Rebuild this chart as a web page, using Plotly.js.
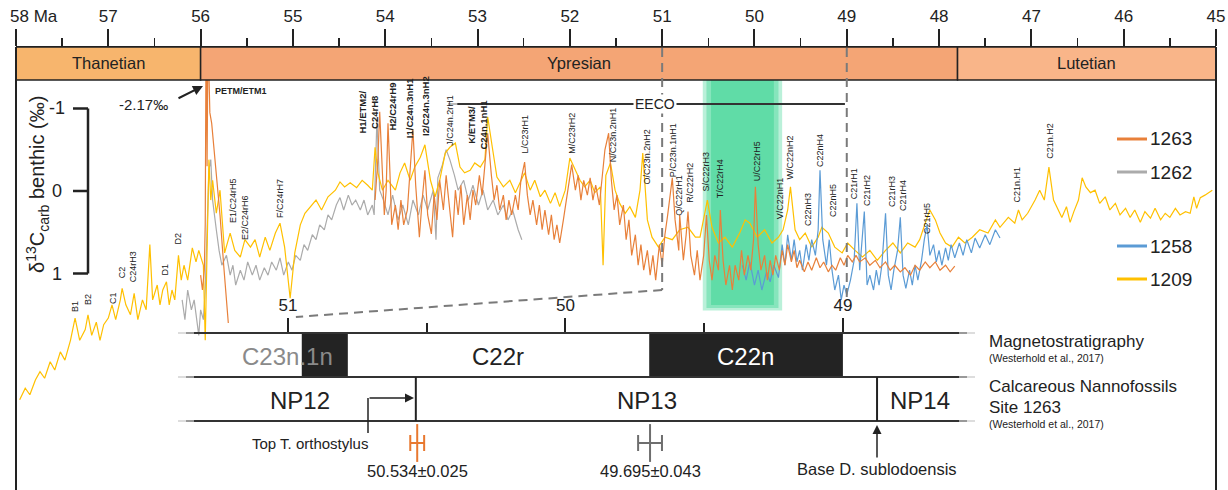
<!DOCTYPE html>
<html><head><meta charset="utf-8">
<script src="https://cdn.plot.ly/plotly-3.0.1.min.js"></script>
<style>html,body{margin:0;padding:0;background:#fff;}#chart{width:1228px;height:490px;}</style>
</head><body><div id="chart"></div>
<script>
// ---------------- DATA ----------------
const seriesNames = ['1263','1262','1258','1209'];

const age1209 = [
57.96,57.90,57.85,57.79,57.74,57.69,57.63,57.58,57.52,57.47,
57.41,57.36,57.31,57.25,57.22,57.18,57.13,57.09,57.05,57.00,
56.96,56.92,56.87,56.85,56.81,56.76,56.72,56.68,56.63,56.59,
56.55,56.52,56.47,56.44,56.41,56.37,56.34,56.31,56.28,56.24,
56.21,56.18,56.14,56.09,56.05,56.02,55.97,55.95,55.93,55.91,
55.89,55.87,55.83,55.79,55.74,55.68,55.63,55.57,55.52,55.46,
55.41,55.36,55.30,55.25,55.19,55.14,55.09,55.03,54.98,54.92,
54.87,54.81,54.75,54.69,54.62,54.54,54.49,54.44,54.38,54.31,
54.25,54.19,54.14,54.11,54.08,54.03,53.97,53.89,53.84,53.79,
53.73,53.68,53.62,53.57,53.51,53.46,53.41,53.35,53.30,53.24,
53.19,53.14,53.08,53.03,52.97,52.92,52.89,52.84,52.79,52.72,
52.65,52.59,52.54,52.49,52.43,52.38,52.32,52.27,52.21,52.16,
52.11,52.05,52.00,51.94,51.89,51.84,51.78,51.73,51.67,51.64,
51.61,51.56,51.51,51.46,51.40,51.35,51.29,51.24,51.21,51.16,
51.11,51.04,50.97,50.89,50.81,50.72,50.64,50.59,50.51,50.46,
50.39,50.32,50.24,50.16,50.10,50.05,49.97,49.89,49.81,49.74,
49.69,49.64,49.61,49.56,49.51,49.45,49.38,49.31,49.27,49.20,
49.13,49.05,48.99,48.91,48.83,48.75,48.67,48.58,48.50,48.42,
48.34,48.26,48.21,48.15,48.10,48.04,47.99,47.93,47.86,47.79,
47.72,47.64,47.56,47.47,47.39,47.34,47.25,47.18,47.14,47.10,
47.04,46.96,46.91,46.86,46.81,46.76,46.71,46.67,46.62,46.58,
46.54,46.49,46.45,46.41,46.36,46.31,46.26,46.20,46.15,46.09,
46.04,45.98,45.93,45.88,45.82,45.77,45.71,45.66,45.60,45.55,
45.50,45.44,45.39,45.33,45.28,45.24,45.21,45.17,45.12,45.04];
const d13c1209 = [
2.53,2.39,2.47,2.29,2.19,2.27,2.07,2.17,1.95,2.05,
1.81,1.54,1.81,1.68,1.50,1.75,1.59,1.81,1.62,1.54,
1.38,1.56,1.32,1.18,1.38,1.50,1.24,1.56,1.32,1.44,
0.65,1.32,1.14,1.38,1.20,1.10,1.38,1.20,1.32,0.78,
1.08,0.90,1.08,0.69,0.86,0.72,0.90,1.81,0.72,-0.38,
0.11,-0.13,0.27,-0.01,0.75,0.51,0.72,0.80,0.59,0.68,
0.59,0.80,0.56,0.72,0.51,0.39,0.68,1.30,0.75,0.41,
0.27,0.19,0.11,0.23,0.07,-0.01,-0.11,-0.05,-0.10,-0.04,
-0.13,-0.07,-0.01,-0.53,-0.22,-0.01,-0.13,-0.01,-0.22,-0.34,
-0.13,-0.29,-0.41,-0.56,-0.13,0.07,-0.13,-0.46,-0.53,-0.58,
-0.29,-0.22,-0.25,-0.34,-0.29,-0.38,-0.90,-0.53,-0.17,-0.05,
-0.13,0.02,-0.10,-0.22,-0.01,-0.13,0.07,-0.01,0.15,0.02,
0.19,-0.01,-0.40,-0.25,-0.13,-0.05,-0.13,0.02,-0.05,0.90,
-0.19,-0.34,-0.01,0.15,0.27,0.19,0.32,-0.01,-0.46,0.35,
0.56,0.68,0.56,0.59,0.47,0.44,0.56,0.56,0.11,0.44,
0.63,0.56,0.68,0.51,0.35,0.39,0.56,0.47,0.63,0.56,
0.47,0.23,-0.05,0.47,0.59,0.51,0.68,0.56,0.44,0.51,
0.68,0.75,0.63,0.72,0.80,0.72,0.84,0.72,0.63,0.75,
0.63,0.68,0.59,0.39,0.23,0.35,0.51,0.63,0.68,0.56,
0.63,0.56,0.47,0.51,0.35,0.44,0.32,0.39,0.23,0.35,
0.27,0.11,-0.01,0.11,-0.29,0.11,0.23,0.32,0.19,0.38,
0.25,0.11,-0.16,-0.05,0.02,-0.01,0.15,0.07,0.23,0.15,
0.29,0.21,0.32,0.23,0.38,0.25,0.33,0.21,0.35,0.27,
0.32,0.21,0.29,0.25,0.27,0.07,0.21,0.08,0.05,-0.01];

const age1262 = [
56.20,56.17,56.14,56.10,56.07,56.04,56.02,56.00,55.97,55.95,
55.93,55.91,55.89,55.87,55.83,55.80,55.77,55.72,55.68,55.65,
55.62,55.57,55.53,55.49,55.44,55.40,55.36,55.31,55.27,55.23,
55.18,55.14,55.10,55.05,55.01,54.97,54.92,54.88,54.84,54.79,
54.75,54.71,54.66,54.62,54.58,54.53,54.49,54.45,54.40,54.36,
54.32,54.27,54.23,54.19,54.14,54.12,54.09,54.06,54.02,53.97,
53.92,53.86,53.81,53.75,53.70,53.64,53.59,53.54,53.48,53.45,
53.43,53.38,53.34,53.30,53.25,53.21,53.15,53.10,53.05,52.99,
52.94,52.89,52.83,52.78,52.72,52.67,52.62,52.56,52.52];
const d13c1262 = [
1.32,1.56,1.20,1.44,1.32,1.62,1.75,1.44,1.56,1.20,
0.47,-0.25,-0.38,0.11,0.47,0.72,0.90,0.78,1.02,0.90,
1.14,0.96,1.08,0.86,1.02,0.90,1.08,0.93,1.02,0.86,
0.96,0.81,1.02,0.86,0.96,0.78,0.84,0.65,0.72,0.53,
0.59,0.41,0.47,0.29,0.35,0.17,0.08,0.23,0.05,0.17,
0.11,0.23,0.11,0.29,0.17,0.29,-0.88,-0.01,0.11,0.29,
0.05,0.35,0.17,0.41,0.11,0.29,0.05,0.23,-0.01,0.59,
-0.16,-0.32,-0.50,-0.38,-0.19,-0.01,-0.13,0.11,-0.07,0.17,
-0.01,0.23,0.11,0.29,0.17,0.35,0.23,0.47,0.59];

const age1263 = [
56.00,55.98,55.96,55.95,55.94,55.93,55.92,55.90,55.88,55.83,55.79,55.75,55.70,55.50,
54.11,54.08,54.06,54.03,54.01,53.99,53.97,53.95,53.93,53.89,
53.86,53.83,53.80,53.76,53.73,53.70,53.67,53.63,53.60,53.57,
53.54,53.50,53.47,53.44,53.41,53.37,53.34,53.31,53.27,53.24,
53.21,53.18,53.15,53.11,53.08,53.05,53.02,52.98,52.95,52.92,
52.89,52.85,52.82,52.79,52.76,52.72,52.69,52.66,52.63,52.59,
52.56,52.53,52.49,52.46,52.43,52.40,52.36,52.33,52.30,52.27,
52.23,52.20,52.17,52.14,52.11,52.07,52.04,52.01,51.98,51.94,
51.91,51.88,51.85,51.81,51.78,51.75,51.72,51.68,51.65,51.62,
51.58,51.55,51.52,51.49,51.46,51.42,51.39,51.36,51.33,51.29,
51.26,51.23,51.20,51.16,51.13,51.10,51.07,51.03,51.00,50.97,
50.94,50.89,50.86,50.82,50.81,50.77,50.74,50.72,50.69,50.65,
50.62,50.59,50.55,50.52,50.49,50.46,50.43,50.39,50.37,50.34,
50.31,50.27,50.24,50.21,50.17,50.14,50.11,50.07,50.04,50.01,
49.99,49.96,49.93,49.89,49.86,49.83,49.80,49.77,49.73,49.70,
49.67,49.64,49.60,49.57,49.54,49.51,49.46,49.42,49.38,49.33,
49.29,49.25,49.20,49.16,49.12,49.07,49.03,48.99,48.94,48.90,
48.86,48.80,48.75,48.69,48.64,48.58,48.53,48.48,48.42,48.37,
48.31,48.26,48.21,48.15,48.10,48.04,47.99,47.93,47.88,47.83];
const d13c1263 = [
1.02,1.20,0.96,0.40,-2.17,-0.30,-1.90,-0.95,-0.82,-0.25,0.29,0.90,1.60,null,
0.11,-0.38,-0.96,-0.25,0.29,-0.01,-0.82,-0.25,0.41,0.17,
0.47,0.11,0.41,0.23,-0.25,-0.75,-0.07,0.56,0.11,-0.25,
0.29,0.52,0.05,0.35,-0.13,0.23,-0.19,0.11,0.56,-0.01,
0.29,-0.07,0.41,0.05,0.35,-0.01,0.17,-0.19,0.05,-0.32,
-0.70,-0.19,0.11,-0.07,0.23,0.05,0.35,0.11,0.29,0.05,
0.23,-0.13,-0.35,0.05,0.29,0.11,0.41,0.17,0.47,0.23,
0.53,0.29,0.59,0.41,0.63,0.35,0.11,-0.13,-0.32,-0.01,
-0.19,0.11,-0.13,0.05,-0.16,0.11,-0.07,0.17,-0.19,-0.50,
-0.70,-0.13,0.23,0.05,0.41,0.17,0.59,0.35,0.78,0.53,
0.90,0.65,0.96,0.72,1.02,0.78,1.08,0.65,0.90,0.53,
0.29,-0.16,0.35,0.72,0.29,0.84,0.53,0.25,0.78,1.02,
0.72,1.08,0.78,0.29,0.84,1.08,0.78,0.96,0.23,0.84,
1.14,0.90,1.20,0.90,1.08,0.72,1.02,0.78,0.96,0.59,
-0.05,0.65,0.96,0.78,1.08,0.84,1.02,0.78,0.96,0.72,
0.90,0.65,0.86,0.72,0.93,0.84,0.98,0.86,0.96,0.81,
0.93,0.86,0.98,0.90,0.96,0.81,0.90,0.78,0.86,0.78,
0.86,0.81,0.90,0.84,0.93,0.86,0.96,0.90,0.98,0.93,
1.02,0.90,0.96,0.86,0.93,0.86,0.96,0.90,0.98,0.91];

const age1258 = [
50.13,50.09,50.05,50.00,49.96,49.92,49.87,49.83,49.79,49.74,
49.70,49.67,49.64,49.60,49.57,49.54,49.51,49.48,49.44,49.41,
49.38,49.34,49.31,49.29,49.26,49.22,49.19,49.16,49.13,49.09,
49.06,49.03,49.00,48.96,48.92,48.89,48.86,48.81,48.78,48.75,
48.71,48.68,48.65,48.62,48.58,48.55,48.52,48.49,48.45,48.42,
48.39,48.36,48.32,48.29,48.26,48.23,48.19,48.16,48.13,48.10,
48.06,48.03,48.00,47.97,47.93,47.90,47.87,47.83,47.78,47.74,
47.70,47.65,47.61,47.56,47.50,47.45,47.39,47.34];
const d13c1258 = [
0.90,1.08,0.86,1.14,0.96,1.20,0.98,1.10,0.90,1.05,
0.65,0.90,0.53,0.84,0.59,0.86,0.72,0.96,0.65,0.84,
0.59,0.78,0.47,-0.25,0.59,0.90,0.59,0.96,1.20,1.02,
1.32,1.14,1.26,1.08,0.84,0.15,0.96,0.25,1.14,1.02,
1.20,0.96,1.14,0.90,0.27,1.02,1.20,0.96,0.72,0.32,
1.02,1.18,0.96,1.14,0.90,1.08,0.84,0.59,0.41,0.78,
0.65,0.86,0.72,0.90,0.69,0.84,0.65,0.81,0.63,0.78,
0.59,0.75,0.57,0.69,0.53,0.65,0.47,0.57];

const petmMin = -2.17;
const ageTicks = [58,57,56,55,54,53,52,51,50,49,48,47,46,45];
const ageMinorTicks = [57.5,56.5,55.5,54.5,53.5,52.5,51.5,50.5,49.5,48.5,47.5,46.5,45.5];
const stageNames = ['Thanetian','Ypresian','Lutetian'];
const stageStart = [58,56,47.8];
const stageEnd = [56,47.8,45];
const eecoStart = 53.22, eecoEnd = 49.02;
const greenStart = 50.52, greenEnd = 49.74;

const zoomTicks = [51,50,49];
const zoomMinorTicks = [50.5,49.5];
const chronNames = ['C23n.1n','C22r','C22n'];
const chronStart = [50.95,50.784,49.698];
const chronEnd = [50.784,49.698,49.0];
const chronNormal = [true,false,true];
const zoneNames = ['NP12','NP13','NP14'];
const zoneStart = [51.40,50.539,48.877];
const zoneEnd = [50.539,48.877,48.52];
const datingAge = [50.534,49.695];
const datingErr = [0.025,0.043];

// event labels: [text, age, y(px), bold]
const events = [
['B1',57.36,307,0],['B2',57.22,300,0],['C1',56.95,298,0],['C2',56.85,272,0],['C24rH3',56.73,267,0],
['D1',56.39,270,0],['D2',56.24,238,0],['E1/C24rH5',55.65,200,0],['E2/C24rH6',55.52,217,0],['F/C24rH7',55.14,199,0],
['H1/ETM2/<br>C24rH8',54.18,112,1],['H2/C24rH9',53.92,107,1],['I1/C24n.3nH1',53.73,108,1],['I2/C24n.3nH2',53.57,106,1],
['J/C24n.2rH1',53.30,120,0],['K/ETM3/<br>C24n.1nH1',53.00,125,1],['L/C23rH1',52.49,134,0],['M/C23rH2',51.98,133,0],
['N/C23n.2nH1',51.53,135,0],['O/C23n.2nH2',51.16,157,0],['P/C23n.1nH1',50.88,150,0],['Q/C22rH1',50.82,195,0],
['R/C22rH2',50.70,183,0],['S/C22rH3',50.52,171,0],['T/C22rH4',50.37,179,0],['U/C22rH5',49.97,161,0],
['V/C22nH1',49.72,198,0],['W/C22nH2',49.61,157,0],['C22nH3',49.42,210,0],['C22nH4',49.29,151,0],
['C22nH5',49.15,200,0],['C21rH1',48.92,184,0],['C21rH2',48.78,191,0],['C21rH3',48.51,192,0],
['C21rH4',48.39,196,0],['C21rH5',48.13,219,0],['C21n.H1',47.16,185,0],['C21n.H2',46.80,141,0]];

// ---------------- STYLE / LAYOUT ----------------
const W=1228,H=490;
const FONT='Liberation Sans, Arial, sans-serif';
const INK='#222';
const X=p=>p/W, Y=p=>(H-p)/H;
const col = {'1263':'#E8803A','1262':'#ABABAB','1258':'#5B9BD5','1209':'#FFC000'};
const stageCol = ['#F7B56D','#F4A575','#F9B589'];

function line(t,a,v,w){return {type:'scatter',mode:'lines',x:a,y:v,xaxis:'x',yaxis:'y',
  line:{color:col[t],width:w||1.2},hoverinfo:'skip',showlegend:false,connectgaps:false};}
const traces=[line('1262',age1262,d13c1262),line('1209',age1209,d13c1209),
  line('1258',age1258,d13c1258),line('1263',age1263,d13c1263)];
const datCol=['#E8782F','#6e6e6e'];
datingAge.forEach((a,i)=>traces.push({type:'scatter',mode:'markers',x:[a],y:[443],xaxis:'x3',yaxis:'y2',
  marker:{symbol:'line-ns-open',size:27,color:datCol[i],line:{color:datCol[i],width:2}},
  error_x:{type:'data',array:[datingErr[i]],color:datCol[i],thickness:2,width:8},hoverinfo:'skip',showlegend:false}));

const shapes=[];
const ann=[];
function L(x0,y0,x1,y1,c,w,d,xr,yr,layer){shapes.push({type:'line',x0,y0,x1,y1,xref:xr||'paper',yref:yr||'paper',
  line:{color:c,width:w,dash:d||'solid'},layer:layer||'above'});}
function T(text,x,y,o){ann.push(Object.assign({text,x,y,xref:'paper',yref:'paper',showarrow:false,
  xanchor:'center',yanchor:'middle',font:{family:FONT,size:16,color:INK}},o||{}));}

// green EECO core band (soft edges)
[[0.04,0.35],[0.0,0.4],[-0.05,0.5]].forEach(([d,op])=>{
  shapes.push({type:'rect',xref:'x',yref:'paper',x0:greenStart+d,x1:greenEnd-d,y0:Y(80),y1:Y(308+d*60),
   fillcolor:'rgb(58,212,145)',opacity:op,line:{width:0},layer:'below'});});

// stage bar
stageNames.forEach((s,i)=>{
  shapes.push({type:'rect',xref:'x',yref:'paper',x0:stageStart[i],x1:stageEnd[i],y0:Y(47),y1:Y(80),
   fillcolor:stageCol[i],line:{color:INK,width:1.5},layer:'above'});
  ann.push({text:s,x:(stageStart[i]+stageEnd[i])/2,y:Y(63),xref:'x',yref:'paper',showarrow:false,
   font:{family:FONT,size:16.5,color:INK}});
});
// frame
L(X(16),Y(47),X(16),Y(490),INK,2);
L(X(1216),Y(47),X(1216),Y(490),INK,2);

// dashed connectors
L(51,Y(48),51,Y(290),'#7a7a7a',2,'9px,6px','x');
L(49,Y(48),49,Y(300),'#7a7a7a',2,'9px,6px','x');
const xMain=a=>(16+(58-a)*1200/13)/W;
const xLow=a=>(178+(51.396-a)*797/2.872)/W;
L(xMain(51),Y(290),xLow(51)+8/W,Y(317),'#7a7a7a',2,'9px,6px');

// EECO
L(eecoStart+0.1,Y(104),eecoStart,Y(104),'#bbbbbb',2,'solid','x');
L(eecoStart,Y(104),eecoEnd,Y(104),'#333',2,'solid','x');
ann.push({text:'EECO',x:51.08,y:Y(104),xref:'x',yref:'paper',showarrow:false,bgcolor:'#fff',borderpad:1,
  font:{family:FONT,size:14,color:INK}});

// y scale bar
L(X(88),-1,X(88),1,INK,2.5,'solid','paper','y');
[-1,0,1].forEach(v=>{L(X(73),v,X(88),v,INK,2.5,'solid','paper','y');
  ann.push({text:String(v),x:X(57),y:v,xref:'paper',yref:'y',showarrow:false,font:{family:FONT,size:18,color:INK}});});
T('δ<sup>13</sup>C<sub>carb</sub> benthic (‰)',X(37),Y(185),{textangle:-90,font:{family:FONT,size:20,color:INK}});

// PETM annotation
T('-2.17‰',X(143),Y(104),{font:{family:FONT,size:15,color:INK}});
ann.push({text:'',x:X(203),y:Y(86),xref:'paper',yref:'paper',showarrow:true,ax:-26,ay:13,arrowhead:2,arrowsize:1,arrowwidth:2,arrowcolor:INK});
T('<b>PETM/ETM1</b>',X(213),Y(91),{xanchor:'left',font:{family:FONT,size:9,color:INK}});
ann.push({text:'58 Ma',x:X(8),y:Y(17),xref:'paper',yref:'paper',showarrow:false,xanchor:'left',font:{family:FONT,size:17,color:INK}});

// event labels
events.forEach(([t,a,y,b])=>ann.push({text:b?'<b>'+t+'</b>':t,x:a,y:Y(y),xref:'x',yref:'paper',showarrow:false,
  textangle:-90,xanchor:'center',yanchor:'middle',font:{family:FONT,size:b?9.5:9,color:INK}}));

// legend
const legY={'1263':139,'1262':172,'1258':246,'1209':279};
seriesNames.forEach(s=>{L(X(1117),Y(legY[s]),X(1147),Y(legY[s]),col[s],3);
  T(s,X(1148),Y(legY[s]),{xanchor:'left',font:{family:FONT,size:19,color:INK}});});

// lower panel
chronNames.forEach((c,i)=>{ if(chronNormal[i]) shapes.push({type:'rect',xref:'x3',yref:'paper',x0:chronStart[i],x1:chronEnd[i],
  y0:Y(333),y1:Y(377),fillcolor:'#232323',line:{width:0},layer:'above'});});
function fade(y){L(X(178),Y(y),X(186),Y(y),'#dddddd',2);L(X(186),Y(y),X(194),Y(y),'#999',2);
  L(X(194),Y(y),X(959),Y(y),'#333',2);L(X(959),Y(y),X(967),Y(y),'#999',2);L(X(967),Y(y),X(975),Y(y),'#dddddd',2);}
fade(333);fade(377);fade(421);
[zoneEnd[0],zoneEnd[1]].forEach(a=>L(a,Y(377),a,Y(421),'#222',2,'solid','x3'));
const chronLab=[[51.0,'#8a8a8a'],[50.243,INK],[49.35,'#fff']];
chronNames.forEach((c,i)=>ann.push({text:c,x:chronLab[i][0],y:Y(356),xref:'x3',yref:'paper',showarrow:false,
  font:{family:FONT,size:24,color:chronLab[i][1]}}));
const zoneLab=[50.957,49.706,48.723];
zoneNames.forEach((z,i)=>ann.push({text:z,x:zoneLab[i],y:Y(400),xref:'x3',yref:'paper',showarrow:false,
  font:{family:FONT,size:24,color:INK}}));
// Top T. orthostylus arrow
L(X(368),Y(433),X(368),Y(398),INK,1.5);
ann.push({text:'',x:X(414),y:Y(398),xref:'paper',yref:'paper',showarrow:true,ax:-46,ay:0,arrowhead:2,arrowsize:1.2,arrowwidth:1.5,arrowcolor:INK});
T('Top T. orthostylus',X(310),Y(443),{font:{family:FONT,size:15,color:INK}});
// Base D. sublodoensis arrow
ann.push({text:'',x:X(877),y:Y(425),xref:'paper',yref:'paper',showarrow:true,ax:0,ay:34,arrowhead:2,arrowsize:1.2,arrowwidth:1.5,arrowcolor:INK});
T('Base D. sublodoensis',X(877),Y(469),{font:{family:FONT,size:16.5,color:INK}});
datingAge.forEach((a,i)=>ann.push({text:a.toFixed(3)+'±'+datingErr[i].toFixed(3),x:a,y:Y(471),xref:'x3',yref:'paper',
  showarrow:false,font:{family:FONT,size:16.5,color:INK}}));
// right labels
T('Magnetostratigraphy',X(987),Y(342),{xanchor:'left',font:{family:FONT,size:17,color:INK}});
T('(Westerhold et al., 2017)',X(987),Y(358),{xanchor:'left',font:{family:FONT,size:10.5,color:INK}});
T('Calcareous Nannofossils',X(987),Y(386),{xanchor:'left',font:{family:FONT,size:17,color:INK}});
T('Site 1263',X(987),Y(407),{xanchor:'left',font:{family:FONT,size:17,color:INK}});
T('(Westerhold et al., 2017)',X(987),Y(424),{xanchor:'left',font:{family:FONT,size:10.5,color:INK}});

// explicit anchoring for all texts
ann.forEach(a=>{ if(a.xanchor===undefined) a.xanchor='center'; if(a.yanchor===undefined) a.yanchor='middle'; });

const layout={width:W,height:H,margin:{l:0,r:0,t:0,b:0},paper_bgcolor:'#fff',plot_bgcolor:'rgba(0,0,0,0)',
  showlegend:false,font:{family:FONT,color:INK},
  xaxis:{domain:[16/W,1216/W],range:[58,45],anchor:'free',position:Y(47),side:'top',ticks:'outside',ticklen:17,
    tickwidth:2,tickcolor:INK,showline:true,linewidth:2,linecolor:INK,tickvals:ageTicks,
    ticktext:ageTicks.map(t=>t===58?'':String(t)),tickfont:{family:FONT,size:17,color:INK},
    minor:{tickvals:ageMinorTicks,ticklen:8,tickwidth:1.5,tickcolor:INK,ticks:'outside'},
    showgrid:false,zeroline:false,fixedrange:true},
  yaxis:{domain:[0,Y(80)],range:[(490-191)/82.5,(80-191)/82.5],visible:false,anchor:'free',position:0,fixedrange:true},
  xaxis3:{domain:[178/W,975/W],range:[51.396,48.524],anchor:'free',position:Y(333),side:'top',ticks:'outside',
    ticklen:15,tickwidth:2,tickcolor:INK,tickvals:zoomTicks,ticktext:zoomTicks.map(String),
    minor:{tickvals:zoomMinorTicks,ticklen:10,tickwidth:2,tickcolor:INK,ticks:'outside'},
    tickfont:{family:FONT,size:17,color:INK},showline:false,showgrid:false,zeroline:false,fixedrange:true},
  yaxis2:{domain:[0,1],range:[H,0],visible:false,anchor:'free',position:0,fixedrange:true},
  shapes,annotations:ann};
Plotly.newPlot('chart',traces,layout,{displayModeBar:false,staticPlot:true});
</script></body></html>
